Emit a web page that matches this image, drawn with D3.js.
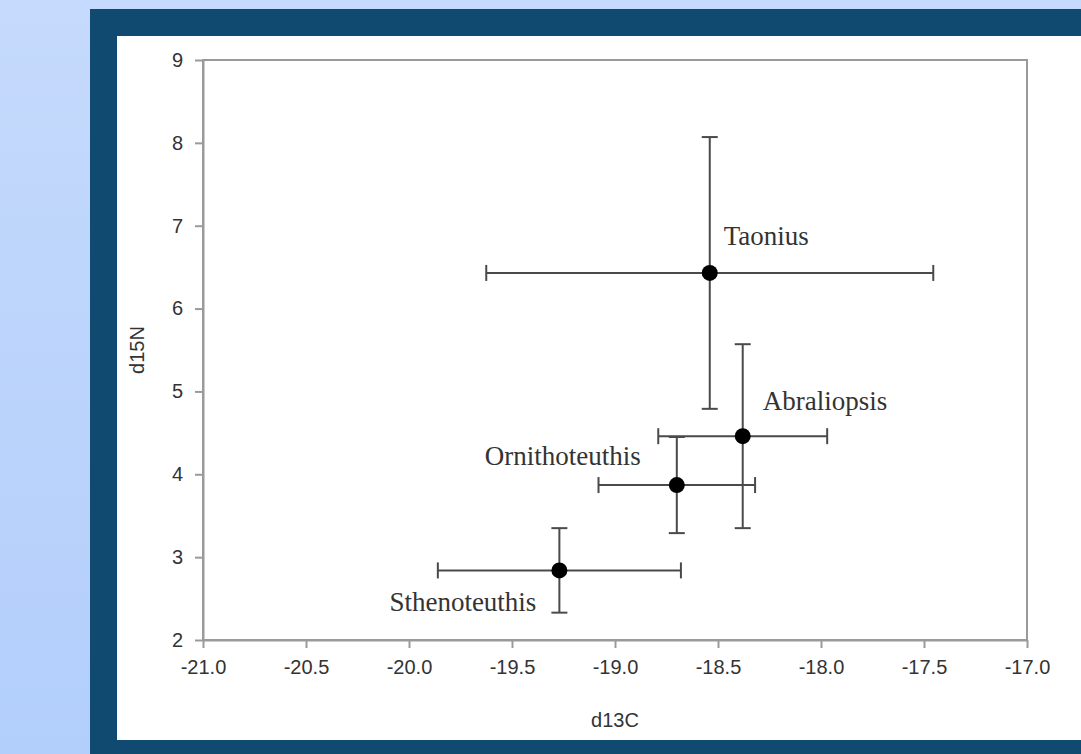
<!DOCTYPE html>
<html>
<head>
<meta charset="utf-8">
<script src="https://cdn.jsdelivr.net/npm/d3@7"></script>
<style>
  html, body { margin: 0; padding: 0; }
  body {
    width: 1081px; height: 754px; overflow: hidden;
    background: linear-gradient(to bottom, #c5dafc, #b2cefb);
  }
</style>
</head>
<body>
<div id="chart"></div>
<script>
// species means and standard deviations
const species = ["Taonius", "Abraliopsis", "Ornithoteuthis", "Sthenoteuthis"];
const d13C = [-18.54, -18.38, -18.70, -19.27];
const d13Csd = [1.085, 0.41, 0.38, 0.59];
const d15N = [6.43, 4.46, 3.87, 2.84];
const d15Nsd = [1.64, 1.11, 0.58, 0.51];

const xTicks = [-21.0, -20.5, -20.0, -19.5, -19.0, -18.5, -18.0, -17.5, -17.0];
const yTicks = [2, 3, 4, 5, 6, 7, 8, 9];

const data = species.map((s, i) => ({
  name: s, x: d13C[i], xe: d13Csd[i], y: d15N[i], ye: d15Nsd[i]
}));

const W = 1081, H = 754;
const plot = { left: 203, right: 1027, top: 60, bottom: 640 };

const svg = d3.select("#chart")
  .append("svg")
  .attr("width", W)
  .attr("height", H)
  .style("display", "block");

// dark frame + white panel
svg.append("rect")
  .attr("x", 90).attr("y", 9)
  .attr("width", W - 90).attr("height", H - 9)
  .attr("fill", "#114a70");
svg.append("rect")
  .attr("x", 117).attr("y", 36)
  .attr("width", W - 117).attr("height", 704)
  .attr("fill", "#ffffff");

const x = d3.scaleLinear().domain([-21, -17]).range([plot.left, plot.right]);
const y = d3.scaleLinear().domain([2, 9]).range([plot.bottom, plot.top]);

const axisColor = "#9a9a9a";
const textColor = "#333333";
const sans = "Arial, 'Liberation Sans', sans-serif";

// plot box
svg.append("rect")
  .attr("x", plot.left).attr("y", plot.top)
  .attr("width", plot.right - plot.left)
  .attr("height", plot.bottom - plot.top)
  .attr("fill", "none")
  .attr("stroke", axisColor)
  .attr("stroke-width", 2);

const xAxis = svg.append("g")
  .attr("transform", `translate(0,${plot.bottom})`)
  .call(d3.axisBottom(x).tickValues(xTicks).tickFormat(d => d.toFixed(1))
    .tickSize(8).tickSizeOuter(0).tickPadding(12));

const yAxis = svg.append("g")
  .attr("transform", `translate(${plot.left},0)`)
  .call(d3.axisLeft(y).tickValues(yTicks).tickFormat(d => String(d))
    .tickSize(8).tickSizeOuter(0).tickPadding(12));

[xAxis, yAxis].forEach(g => {
  g.select(".domain").attr("stroke", axisColor).attr("stroke-width", 2);
  g.selectAll(".tick line").attr("stroke", axisColor).attr("stroke-width", 2);
  g.selectAll(".tick text")
    .attr("fill", textColor)
    .style("font-family", sans)
    .style("font-size", "20px");
});

// axis titles
svg.append("text")
  .attr("x", (plot.left + plot.right) / 2)
  .attr("y", 727)
  .attr("text-anchor", "middle")
  .attr("fill", textColor)
  .style("font-family", sans)
  .style("font-size", "20px")
  .text("d13C");

svg.append("text")
  .attr("transform", `translate(144,${(plot.top + plot.bottom) / 2}) rotate(-90)`)
  .attr("text-anchor", "middle")
  .attr("fill", textColor)
  .style("font-family", sans)
  .style("font-size", "20px")
  .text("d15N");

// error bars
const cap = 8;
const barColor = "#4a4a4a";
const bars = svg.append("g")
  .attr("stroke", barColor)
  .attr("stroke-width", 2)
  .attr("fill", "none");

data.forEach(d => {
  const g = bars.append("g");
  g.append("line")
    .attr("x1", x(d.x - d.xe)).attr("x2", x(d.x + d.xe))
    .attr("y1", y(d.y)).attr("y2", y(d.y));
  g.append("line")
    .attr("x1", x(d.x)).attr("x2", x(d.x))
    .attr("y1", y(d.y - d.ye)).attr("y2", y(d.y + d.ye));
  [d.x - d.xe, d.x + d.xe].forEach(v => {
    g.append("line")
      .attr("x1", x(v)).attr("x2", x(v))
      .attr("y1", y(d.y) - cap).attr("y2", y(d.y) + cap);
  });
  [d.y - d.ye, d.y + d.ye].forEach(v => {
    g.append("line")
      .attr("x1", x(d.x) - cap).attr("x2", x(d.x) + cap)
      .attr("y1", y(v)).attr("y2", y(v));
  });
});

svg.append("g")
  .selectAll("circle")
  .data(data)
  .enter()
  .append("circle")
  .attr("cx", d => x(d.x))
  .attr("cy", d => y(d.y))
  .attr("r", 8)
  .attr("fill", "#000");

// species labels, offset from their point
const labelPos = {
  Taonius: { dx: 14, dy: -28, anchor: "start" },
  Abraliopsis: { dx: 20, dy: -26, anchor: "start" },
  Ornithoteuthis: { dx: -36, dy: -20, anchor: "end" },
  Sthenoteuthis: { dx: -23, dy: 41, anchor: "end" }
};

svg.append("g")
  .selectAll("text")
  .data(data)
  .enter()
  .append("text")
  .attr("x", d => x(d.x) + labelPos[d.name].dx)
  .attr("y", d => y(d.y) + labelPos[d.name].dy)
  .attr("text-anchor", d => labelPos[d.name].anchor)
  .attr("fill", "#333")
  .style("font-family", "'Times New Roman', 'Liberation Serif', serif")
  .style("font-size", "27px")
  .text(d => d.name);
</script>
</body>
</html>
